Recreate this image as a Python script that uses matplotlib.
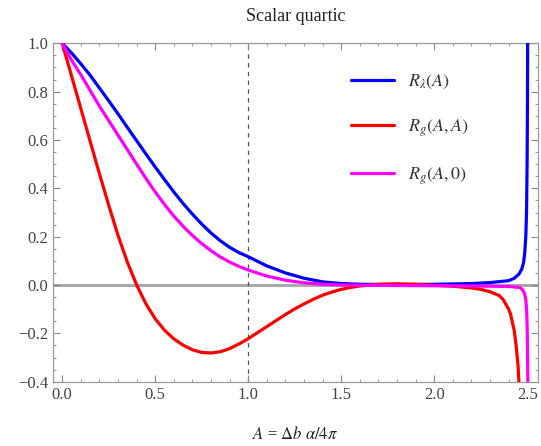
import matplotlib
matplotlib.use("Agg")
import matplotlib.pyplot as plt
from matplotlib.ticker import MultipleLocator

plt.rcParams['mathtext.fontset'] = 'stix'
plt.rcParams['font.family'] = ['Liberation Serif', 'DejaVu Serif']

# R_lambda(A)  (blue)
blue_x = [0.0, 0.05, 0.1, 0.15, 0.2, 0.25, 0.3, 0.35, 0.4, 0.45, 0.5, 0.55, 0.6, 0.65, 0.7,
          0.75, 0.8, 0.85, 0.9, 0.95, 1.0, 1.1, 1.2, 1.3, 1.4, 1.5, 1.6, 1.8, 2.0, 2.2, 2.3,
          2.35, 2.4, 2.43, 2.455, 2.47, 2.48, 2.486, 2.492, 2.496, 2.499, 2.501, 2.502]
blue_y = [1.0, 0.96, 0.915, 0.868, 0.815, 0.762, 0.708, 0.652, 0.597, 0.542, 0.488, 0.436,
          0.385, 0.337, 0.293, 0.252, 0.215, 0.183, 0.156, 0.134, 0.117, 0.079, 0.05, 0.028,
          0.013, 0.006, 0.003, 0.002, 0.003, 0.006, 0.01, 0.014, 0.018, 0.028, 0.045, 0.065,
          0.093, 0.13, 0.2, 0.3, 0.5, 0.75, 1.0]

# R_g(A,A)  (red)
red_x = [0.0, 0.05, 0.1, 0.15, 0.2, 0.25, 0.3, 0.35, 0.4, 0.45, 0.5, 0.55, 0.6, 0.65, 0.7,
         0.75, 0.8, 0.85, 0.9, 0.95, 1.0, 1.05, 1.1, 1.15, 1.2, 1.25, 1.3, 1.35, 1.4, 1.45,
         1.5, 1.55, 1.6, 1.7, 1.8, 1.9, 2.0, 2.1, 2.2, 2.25, 2.3, 2.35, 2.37, 2.4, 2.41,
         2.43, 2.44, 2.45, 2.455]
red_y = [1.0, 0.865, 0.73, 0.595, 0.46, 0.33, 0.205, 0.095, 0.0, -0.078, -0.14, -0.187,
         -0.223, -0.249, -0.268, -0.279, -0.281, -0.276, -0.263, -0.244, -0.222, -0.197,
         -0.172, -0.147, -0.122, -0.099, -0.078, -0.059, -0.042, -0.029, -0.018, -0.01,
         -0.004, 0.003, 0.005, 0.003, -0.001, -0.005, -0.012, -0.018, -0.028, -0.044,
         -0.06, -0.1, -0.12, -0.19, -0.25, -0.33, -0.40]

# R_g(A,0)  (magenta)
mag_x = [0.0, 0.05, 0.1, 0.15, 0.2, 0.25, 0.3, 0.35, 0.4, 0.45, 0.5, 0.55, 0.6, 0.65, 0.7,
         0.75, 0.8, 0.85, 0.9, 0.95, 1.0, 1.1, 1.2, 1.3, 1.4, 1.5, 1.8, 2.0, 2.2, 2.4, 2.46,
         2.475, 2.485, 2.492, 2.497, 2.5, 2.503]
mag_y = [1.0, 0.93, 0.87, 0.805, 0.74, 0.68, 0.62, 0.56, 0.5, 0.441, 0.385, 0.333, 0.285,
         0.243, 0.205, 0.171, 0.142, 0.116, 0.095, 0.077, 0.062, 0.037, 0.02, 0.009, 0.003,
         0.0, -0.002, -0.003, -0.004, -0.006, -0.01, -0.02, -0.035, -0.06, -0.11, -0.2,
         -0.40]

x_ticks = [0.0, 0.5, 1.0, 1.5, 2.0, 2.5]
y_ticks = [-0.4, -0.2, 0.0, 0.2, 0.4, 0.6, 0.8, 1.0]

fig = plt.figure(figsize=(5.41, 4.46), dpi=100)
ax = fig.add_axes([53.3 / 541, 1 - 381.7 / 446, (537.7 - 53.3) / 541, (381.7 - 43.3) / 446])

ax.axhline(0.0, color='#aaaaaa', lw=2.2, zorder=1)
ax.axvline(1.0, color='#555555', lw=0.9, ls=(0, (3.5, 3.5)), zorder=1)

kw = dict(lw=2.3, zorder=3, solid_joinstyle='round', solid_capstyle='round')
ax.plot(blue_x, blue_y, color='#0000ff', label=r'$R_{\lambda}(A)$', **kw)
ax.plot(red_x, red_y, color='#ff0000', label=r'$R_{g}(A,A)$', **kw)
ax.plot(mag_x, mag_y, color='#ff00ff', label=r'$R_{g}(A,0)$', **kw)

ax.set_xlim(-0.048, 2.556)
ax.set_ylim(-0.4, 1.0)
ax.set_xticks(x_ticks)
ax.set_yticks(y_ticks)
ax.set_xticklabels([f'{v:.1f}' for v in x_ticks])
ax.set_yticklabels([f'{v:.1f}'.replace('-', '\u2212') for v in y_ticks])
ax.xaxis.set_minor_locator(MultipleLocator(0.1))
ax.yaxis.set_minor_locator(MultipleLocator(0.05))
ax.tick_params(which='both', direction='in', top=True, right=True, color='#888888',
               labelcolor='#444444', labelsize=12)
ax.tick_params(which='major', length=5, width=0.8)
ax.tick_params(which='minor', length=2.5, width=0.6)
for s in ax.spines.values():
    s.set_color('#999999')
    s.set_linewidth(0.9)

ax.set_title('Scalar quartic', fontsize=13, color='#222222', pad=16)
ax.set_xlabel(r'$A$ = $\Delta b$ $\alpha/4\pi$', fontsize=12, color='#222222', labelpad=17)

leg = ax.legend(loc='upper left', bbox_to_anchor=(0.58, 0.96), frameon=False,
                fontsize=13, handlelength=2.4, handletextpad=0.8, labelspacing=1.45)
for t in leg.get_texts():
    t.set_color('#333333')

fig.savefig('out.png', dpi=100)
